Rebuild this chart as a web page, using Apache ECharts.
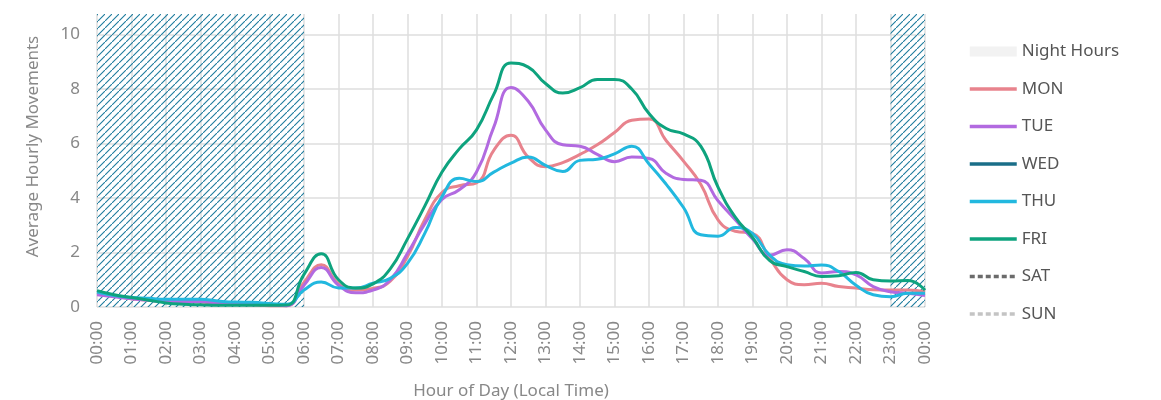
<!DOCTYPE html>
<html>
<head>
<meta charset="utf-8">
<script src="https://cdn.jsdelivr.net/npm/echarts@6/dist/echarts.min.js"></script>
<style>html,body{margin:0;padding:0;background:#fff}#c{width:1161px;height:400px}</style>
</head>
<body>
<div id="c"></div>
<script>
const hours = [0,0.5,1,1.5,2,2.5,3,3.5,4,4.5,5,5.5,6,6.5,7,7.5,8,8.5,9,9.5,10,10.5,11,11.5,12,12.5,13,13.5,14,14.5,15,15.5,16,16.5,17,17.5,18,18.5,19,19.5,20,20.5,21,21.5,22,22.5,23,23.5,24];
const mon = [0.5,0.4,0.3,0.25,0.2,0.2,0.18,0.12,0.1,0.08,0.05,0.05,0.9,1.55,0.85,0.62,0.68,0.95,1.85,3.2,4.2,4.45,4.55,5.75,6.3,5.5,5.15,5.3,5.6,5.95,6.4,6.85,6.9,6.1,5.35,4.5,3.2,2.78,2.7,1.78,1.0,0.82,0.87,0.75,0.7,0.63,0.62,0.62,0.56];
const tue = [0.45,0.38,0.3,0.25,0.2,0.2,0.2,0.15,0.12,0.1,0.08,0.05,0.8,1.45,0.8,0.52,0.62,1.0,1.97,3.05,3.95,4.3,4.95,6.6,8.05,7.55,6.5,5.95,5.9,5.6,5.33,5.5,5.45,4.9,4.68,4.65,3.9,3.2,2.5,1.9,2.1,1.78,1.25,1.3,1.18,0.75,0.56,0.5,0.42];
const wed = [];
const thu = [0.55,0.42,0.35,0.32,0.28,0.28,0.28,0.22,0.18,0.17,0.13,0.1,0.62,0.92,0.7,0.7,0.87,1.05,1.6,2.7,4.05,4.72,4.6,4.95,5.28,5.5,5.2,4.97,5.38,5.42,5.62,5.9,5.25,4.5,3.65,2.65,2.6,2.92,2.7,1.9,1.55,1.5,1.54,1.3,0.8,0.45,0.38,0.5,0.5];
const fri = [0.6,0.45,0.35,0.25,0.15,0.1,0.08,0.06,0.06,0.06,0.06,0.07,1.2,1.95,1.0,0.7,0.85,1.4,2.5,3.7,4.95,5.8,6.5,7.8,8.95,8.8,8.2,7.85,8.05,8.35,8.35,8.0,7.1,6.55,6.35,5.9,4.4,3.3,2.55,1.7,1.48,1.3,1.12,1.15,1.27,1.0,0.95,0.97,0.62];
const sat = [];
const sun = [];
const nightRanges = [[0,6],[23,24]];
const hourLabels = ['00:00','01:00','02:00','03:00','04:00','05:00','06:00','07:00','08:00','09:00','10:00','11:00','12:00','13:00','14:00','15:00','16:00','17:00','18:00','19:00','20:00','21:00','22:00','23:00','00:00'];
const yTicks = [0,2,4,6,8,10];

// hatch pattern (transparent background)
const T = 7;
const pc = document.createElement('canvas');
pc.width = T; pc.height = T;
const g = pc.getContext('2d');
g.strokeStyle = '#1f7c9e'; g.lineWidth = 1.1;
g.beginPath();
g.moveTo(-1,T+1); g.lineTo(T+1,-1);
g.moveTo(-T-1,1); g.lineTo(1,-T-1);
g.moveTo(T-1,2*T+1); g.lineTo(2*T+1,T-1);
g.stroke();

const font = 'Noto Sans';
const pair = (arr) => arr.map((v,i) => [hours[i], v]);
function lineSeries(name, data, color, dashed) {
  return {
    name, type: 'line', data: pair(data), smooth: true, symbol: 'none', z: 3,
    lineStyle: { color, width: 3, type: dashed ? [5,3] : 'solid' },
    itemStyle: { color }
  };
}
const chart = echarts.init(document.getElementById('c'), null, {renderer: 'canvas'});
chart.setOption({
  animation: false,
  textStyle: { fontFamily: font },
  grid: { left: 97, right: 236, top: 14, bottom: 93, outerBoundsMode: 'none', containLabel: false },
  legend: {
    orient: 'vertical', left: 963, top: 38,
    itemWidth: 47, itemHeight: 10, itemGap: 20.5,
    itemStyle: { opacity: 0 },
    lineStyle: { width: 3.5 },
    textStyle: { fontFamily: font, fontSize: 17, color: '#555' },
    data: [
      { name: 'Night Hours', icon: 'rect', itemStyle: { opacity: 1, color: '#f2f2f2' } },
      'MON','TUE','WED','THU','FRI','SAT','SUN'
    ]
  },
  xAxis: {
    type: 'value', min: 0, max: 24, interval: 1,
    name: 'Hour of Day (Local Time)', nameLocation: 'middle', nameGap: 76,
    nameTextStyle: { fontFamily: font, fontSize: 17, color: '#888' },
    axisLine: { show: false }, axisTick: { show: false },
    axisLabel: { rotate: 90, margin: 14, fontSize: 17, color: '#888', fontFamily: font,
      formatter: v => hourLabels[Math.round(v)] },
    splitLine: { show: true, lineStyle: { color: '#dedede', width: 1.5 } }
  },
  yAxis: {
    type: 'value', min: 0, max: 10.75, interval: 2,
    name: 'Average Hourly Movements', nameLocation: 'middle', nameGap: 55,
    nameTextStyle: { fontFamily: font, fontSize: 17, color: '#888', padding: [0, 0, 0, 28] },
    axisLine: { show: false }, axisTick: { show: false },
    axisLabel: { margin: 17, fontSize: 17, color: '#888', fontFamily: font,
      formatter: v => yTicks.includes(v) ? String(v) : '' },
    splitLine: { show: true, lineStyle: { width: 1.5,
      color: ['#dedede','#dedede','#dedede','#dedede','#dedede','#dedede','rgba(0,0,0,0)'] } }
  },
  series: [
    {
      name: 'Night Hours', type: 'line', data: [], z: 1,
      itemStyle: { color: '#f2f2f2' }, lineStyle: { color: '#f2f2f2' },
      markArea: {
        silent: true,
        itemStyle: { color: { image: pc, repeat: 'repeat' } },
        data: nightRanges.map(r => [{ xAxis: r[0] }, { xAxis: r[1] }])
      }
    },
    lineSeries('MON', mon, '#e8838d'),
    lineSeries('TUE', tue, '#b26ae0'),
    lineSeries('WED', wed, '#1a6e88'),
    lineSeries('THU', thu, '#22b8df'),
    lineSeries('FRI', fri, '#0ea37e'),
    lineSeries('SAT', sat, '#6b6b6b', true),
    lineSeries('SUN', sun, '#c4c4c4', true)
  ]
});
</script>
</body>
</html>
